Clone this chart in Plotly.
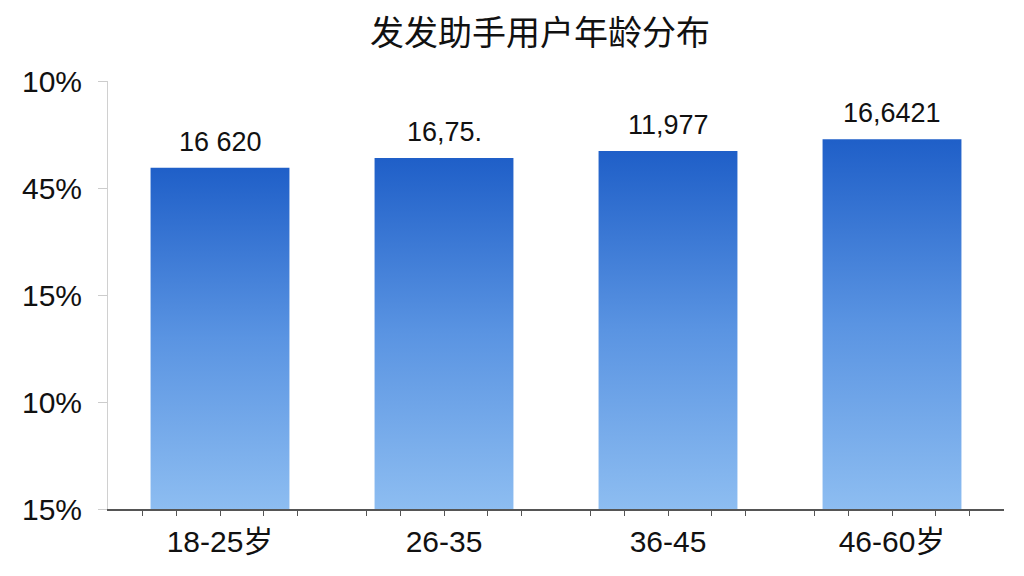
import plotly.graph_objects as go

categories = ["18-25岁", "26-35", "36-45", "46-60岁"]
bar_heights = [3.19, 3.28, 3.345, 3.455]
bar_labels = ["16 620", "16,75.", "11,977", "16,6421"]
y_tickvals = [0, 1, 2, 3, 4]
y_ticktext = ["15%", "10%", "15%", "45%", "10%"]
title_text = "发发助手用户年龄分布"

BAR_W = 0.62
FONT = "Liberation Sans, Arial, Noto Sans CJK SC, sans-serif"

fig = go.Figure()

for i, (h, lab) in enumerate(zip(bar_heights, bar_labels)):
    xs = [i - BAR_W / 2, i - BAR_W / 2, i + BAR_W / 2, i + BAR_W / 2, i - BAR_W / 2]
    ys = [0, h, h, 0, 0]
    fig.add_trace(go.Scatter(
        x=xs, y=ys, mode="lines", fill="toself",
        line=dict(width=0, color="rgba(0,0,0,0)"),
        fillgradient=dict(type="vertical",
                          colorscale=[[0, "#8dbdf1"], [0.5, "#5a94e2"], [1, "#1f5fc8"]],
                          start=0, stop=h),
        hoverinfo="skip", showlegend=False,
    ))
    fig.add_annotation(x=i, y=h, text=lab, showarrow=False, xanchor="center",
                       yanchor="bottom", yshift=9,
                       font=dict(family=FONT, size=27, color="#111111"))

# x ticks: main tick at each category centre plus decorative minor ticks
offsets = [-0.345, -0.192, 0.0, 0.192, 0.345]
tickvals, ticktext = [], []
for i, c in enumerate(categories):
    for o in offsets:
        tickvals.append(i + o)
        ticktext.append(c if o == 0 else "")

fig.update_layout(
    width=1024, height=576,
    paper_bgcolor="white", plot_bgcolor="white",
    margin=dict(l=100, r=28, t=73, b=75),
    title=dict(text=title_text, x=532 / 1024, xanchor="center", xref="container",
               y=1 - 25 / 576, yanchor="middle", yref="container",
               font=dict(family="Noto Sans CJK SC, sans-serif", size=34, color="#111111")),
    xaxis=dict(range=[-0.5, 3.5], tickmode="array", tickvals=tickvals, ticktext=ticktext,
               showgrid=False, zeroline=False, showline=True, linecolor="#555555", linewidth=1.5,
               ticks="outside", ticklen=5, tickcolor="#555555", tickwidth=1,
               tickfont=dict(family=FONT, size=30, color="#111111"), fixedrange=True),
    yaxis=dict(range=[0, 4], tickmode="array", tickvals=y_tickvals, ticktext=y_ticktext,
               showgrid=False, zeroline=False, showline=True, linecolor="#d0d0d0", linewidth=1,
               ticks="outside", ticklen=9, tickcolor="#cccccc", tickwidth=1,
               ticklabelstandoff=10,
               tickfont=dict(family=FONT, size=30, color="#111111"), fixedrange=True),
)

fig.write_html("out.html")
